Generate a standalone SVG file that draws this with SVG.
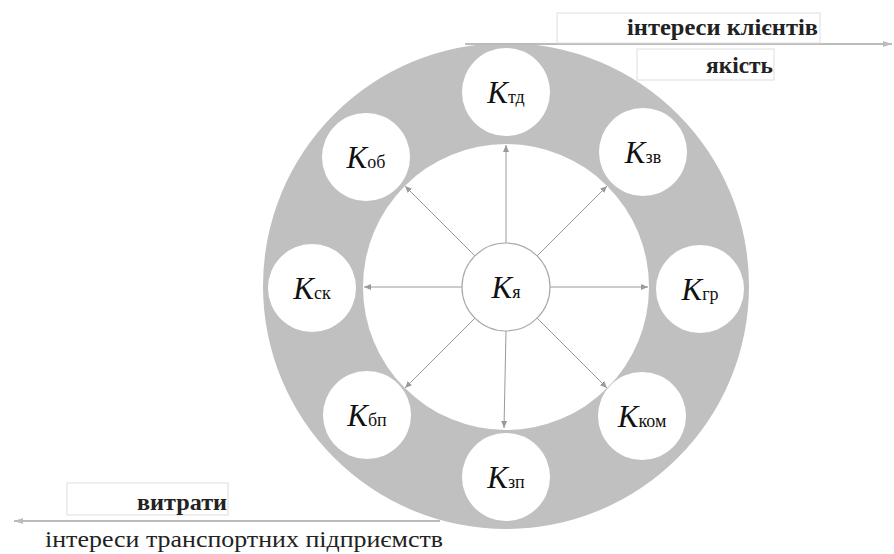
<svg xmlns="http://www.w3.org/2000/svg" width="894" height="554" viewBox="0 0 894 554">
<style>
text{font-family:Liberation Serif, Times New Roman, DejaVu Serif, serif}
.k{font-style:italic;font-size:31px;fill:#111}
.s{font-size:18px;fill:#111}
.node circle{fill:#fff}
.lbl{font-size:23px;font-weight:bold;fill:#222}
.box{fill:#fff;stroke:#ddd;stroke-width:1}
.conn line{stroke:#9a9a9a;stroke-width:1;marker-end:url(#ah)}
</style>
<defs>
<marker id="ah" markerWidth="8" markerHeight="8" refX="7" refY="4" orient="auto" markerUnits="userSpaceOnUse">
<path d="M0,1 L7,4 L0,7 z" fill="#9a9a9a"/>
</marker>
<marker id="ah2" markerWidth="10" markerHeight="8" refX="9" refY="4" orient="auto" markerUnits="userSpaceOnUse">
<path d="M0,1 L9,4 L0,7 z" fill="#bbb"/>
</marker>
</defs>
<rect width="894" height="554" fill="#fff"/>
<circle id="ring" cx="506" cy="286" r="243" fill="#c0c0c0"/>
<circle id="inner" cx="506" cy="287" r="143" fill="#fff"/>
<g id="connectors" class="conn">
<line x1="506" y1="243" x2="506" y2="145"/>
<line x1="537" y1="256" x2="607" y2="186"/>
<line x1="550" y1="287" x2="648" y2="287"/>
<line x1="537" y1="318" x2="607" y2="388"/>
<line x1="506" y1="331" x2="504" y2="428"/>
<line x1="475" y1="318" x2="405" y2="388"/>
<line x1="462" y1="287" x2="364" y2="287"/>
<line x1="475" y1="256" x2="405" y2="186"/>
</g>
<g id="top-line">
<line x1="465" y1="44" x2="892" y2="44" stroke="#bbb" stroke-width="2" marker-end="url(#ah2)"/>
</g>
<g id="bottom-line">
<line x1="440" y1="521" x2="14" y2="521" stroke="#bbb" stroke-width="2" marker-end="url(#ah2)"/>
</g>
<g id="node-ya" class="node"><circle cx="506" cy="287" r="44" stroke="#aaa" stroke-width="1.2"/><text x="506" y="298" text-anchor="middle"><tspan class="k">K</tspan><tspan class="s">я</tspan></text></g>
<g id="node-td" class="node"><circle cx="506" cy="92" r="44"/><text x="506" y="103" text-anchor="middle"><tspan class="k">K</tspan><tspan class="s">тд</tspan></text></g>
<g id="node-zv" class="node"><circle cx="643" cy="152" r="44"/><text x="643" y="163" text-anchor="middle"><tspan class="k">K</tspan><tspan class="s">зв</tspan></text></g>
<g id="node-gr" class="node"><circle cx="700" cy="289" r="44"/><text x="700" y="300" text-anchor="middle"><tspan class="k">K</tspan><tspan class="s">гр</tspan></text></g>
<g id="node-kom" class="node"><circle cx="642" cy="416" r="44"/><text x="642" y="427" text-anchor="middle"><tspan class="k">K</tspan><tspan class="s">ком</tspan></text></g>
<g id="node-zp" class="node"><circle cx="506" cy="477" r="44"/><text x="506" y="488" text-anchor="middle"><tspan class="k">K</tspan><tspan class="s">зп</tspan></text></g>
<g id="node-bp" class="node"><circle cx="367" cy="415" r="44"/><text x="367" y="426" text-anchor="middle"><tspan class="k">K</tspan><tspan class="s">бп</tspan></text></g>
<g id="node-sk" class="node"><circle cx="312" cy="288" r="44"/><text x="312" y="299" text-anchor="middle"><tspan class="k">K</tspan><tspan class="s">ск</tspan></text></g>
<g id="node-ob" class="node"><circle cx="366" cy="157" r="44"/><text x="366" y="168" text-anchor="middle"><tspan class="k">K</tspan><tspan class="s">об</tspan></text></g>
<g id="label-clients">
<rect class="box" x="557" y="13" width="263" height="30"/>
<text class="lbl" x="627" y="35" textLength="191" lengthAdjust="spacingAndGlyphs">інтереси клієнтів</text>
</g>
<g id="label-quality">
<rect class="box" x="637" y="49" width="137" height="31"/>
<text class="lbl" x="706" y="73" textLength="67" lengthAdjust="spacingAndGlyphs">якість</text>
</g>
<g id="label-costs">
<rect class="box" x="67" y="483" width="161" height="32"/>
<text class="lbl" x="137" y="510" textLength="90" lengthAdjust="spacingAndGlyphs">витрати</text>
</g>
<g id="label-transport">
<text x="45" y="547" font-size="23" fill="#222" textLength="398" lengthAdjust="spacingAndGlyphs">інтереси транспортних підприємств</text>
</g>
</svg>
